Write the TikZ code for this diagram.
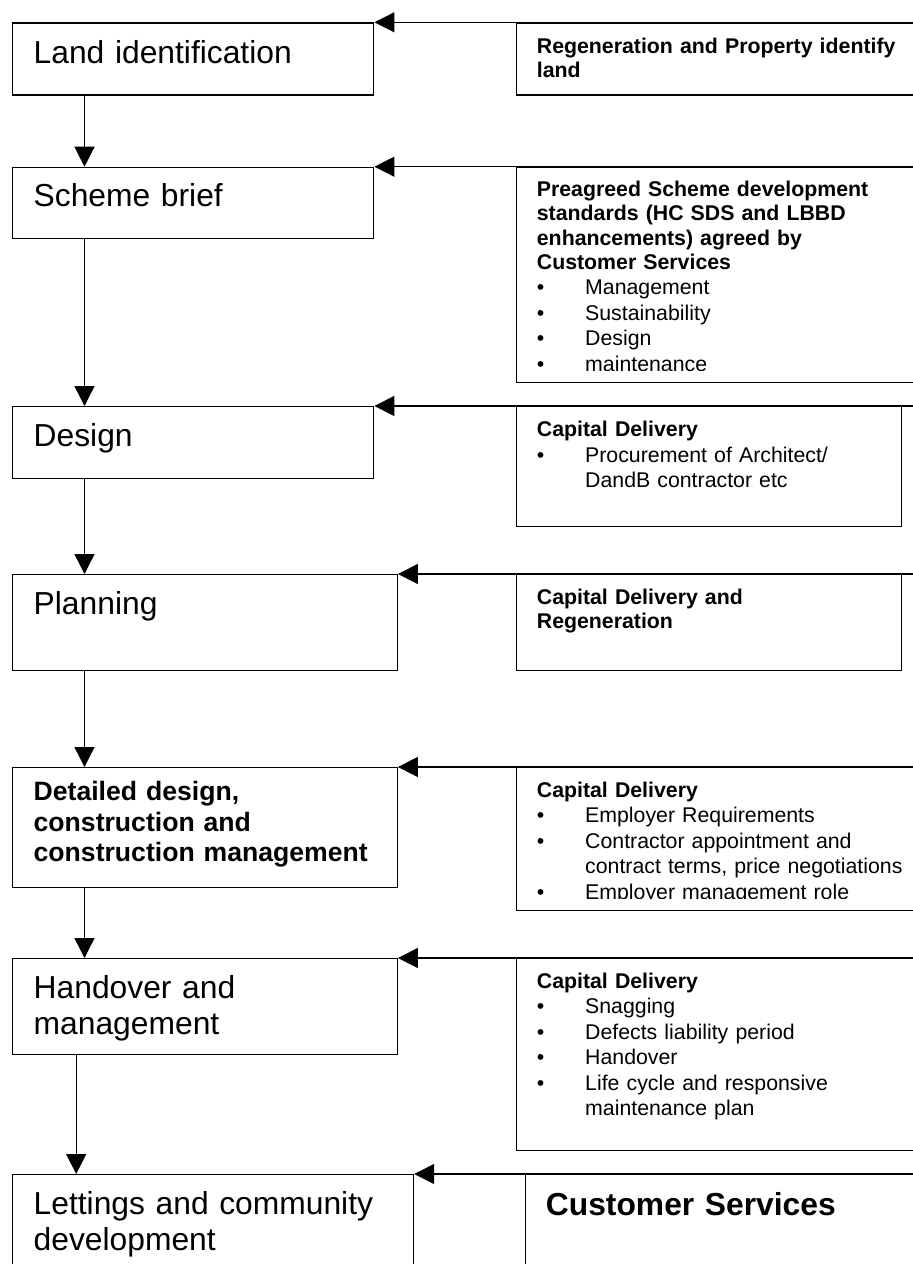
\documentclass[tikz,border=0pt]{standalone}
\usepackage{fontspec}
\setmainfont{Liberation Sans}
\usetikzlibrary{arrows.meta}

% bullet line and hanging indent for the notes
\newcommand\itm[1]{\makebox[48.3pt][l]{\textbullet}#1}
\newcommand\hang{\hspace*{48.3pt}}

\begin{document}
\begin{tikzpicture}[x=1pt, y=-1pt,
  stage/.style={draw, line width=1.4pt, anchor=north west, inner sep=0pt},
  title/.style={anchor=base west, inner sep=0pt, align=left, text width=380pt, font=\fontsize{31.8}{36}\selectfont},
  note/.style={anchor=base west, inner sep=0pt, align=left, text width=370pt, font=\fontsize{21.3}{25.5}\selectfont},
  flow/.style={line width=1.3pt, -{Triangle[length=20pt,width=20pt]}}]
\useasboundingbox (0,0) rectangle (913,1264);
\clip (0,0) rectangle (913,1264);

% stages on the left
\node[stage, minimum width=361pt, minimum height=72pt] (b1) at (12,22.3) {};
\node[stage, minimum width=361pt, minimum height=71.3pt] (b2) at (12,166.7) {};
\node[stage, minimum width=361pt, minimum height=72pt] (b3) at (12,406) {};
\node[stage, minimum width=384.5pt, minimum height=96pt] (b4) at (12,574) {};
\node[stage, minimum width=384.5pt, minimum height=120pt] (b5) at (12,767) {};
\node[stage, minimum width=384.5pt, minimum height=96pt] (b6) at (12,958) {};
\node[stage, minimum width=400.8pt, minimum height=120pt] (b7) at (12,1174) {};

\node[title] (t1) at (33.5,63.3) {Land identification};
\node[title] (t2) at (33.5,206.7) {Scheme brief};
\node[title] (t3) at (33.5,446.7) {Design};
\node[title] (t4) at (33.5,614) {Planning};
\node[title, font=\fontsize{26.6}{30.5}\bfseries] (t5) at (33.5,800.7) {Detailed design,\\construction and\\construction management};
\node[title] (t6) at (33.5,998) {Handover and\\management};
\node[title] (t7) at (33.5,1214) {Lettings and community\\development};

% who does it, on the right
\node[stage, minimum width=409pt, minimum height=72pt] (r1) at (516,22.3) {};
\node[stage, minimum width=409pt, minimum height=215.3pt] (r2) at (516,166.7) {};
\node[stage, minimum width=385pt, minimum height=120pt] (r3) at (516,406) {};
\node[stage, minimum width=385pt, minimum height=96pt] (r4) at (516,574) {};
\node[stage, minimum width=409pt, minimum height=143pt] (r5) at (516,767) {};
\node[stage, minimum width=409pt, minimum height=192pt] (r6) at (516,958) {};
\node[stage, minimum width=401pt, minimum height=120pt] (r7) at (524.5,1174) {};

\node[note] (n1) at (536.7,53.3) {\bfseries Regeneration and Property identify\\[-1.3pt]land};
\begin{scope}
\clip (516,166.7) rectangle (913,370.5);
\node[note] (n2) at (536.7,196.7) {{\bfseries Preagreed Scheme development\\[-1.3pt]standards (HC SDS and LBBD\\[-1.3pt]enhancements) agreed by\\[-1.3pt]Customer Services}\\
  \itm{Management}\\ \itm{Sustainability}\\ \itm{Design}\\ \itm{maintenance}};
\end{scope}
\node[note] (n3) at (536.7,436.7) {{\bfseries Capital Delivery}\\ \itm{Procurement of Architect/}\\ \hang DandB contractor etc};
\node[note] (n4) at (536.7,604) {\bfseries Capital Delivery and\\[-1.3pt]Regeneration};
\begin{scope}
\clip (516,767) rectangle (913,898.5);
\node[note] (n5) at (536.7,797) {{\bfseries Capital Delivery}\\ \itm{Employer Requirements}\\ \itm{Contractor appointment and}\\ \hang contract terms, price negotiations\\ \itm{Employer management role}};
\end{scope}
\node[note] (n6) at (536.7,988) {{\bfseries Capital Delivery}\\ \itm{Snagging}\\ \itm{Defects liability period}\\ \itm{Handover}\\ \itm{Life cycle and responsive}\\ \hang maintenance plan};
\node[title, font=\fontsize{31.8}{36}\bfseries] (n7) at (545.7,1215) {Customer Services};

% feeds from the right edge
\coordinate (e1) at (920,22.3);
\coordinate (e2) at (920,166.7);
\coordinate (e3) at (920,406);
\coordinate (e4) at (920,574);
\coordinate (e5) at (920,767);
\coordinate (e6) at (920,958);
\coordinate (e7) at (920,1174);
\foreach \i in {1,...,7}
  \draw[flow] (e\i) -- (b\i.north east);

% flow down the stages
\foreach \i/\j in {1/2,2/3,3/4,4/5,5/6}
  \draw[flow] ([xshift=72.5pt]b\i.south west) -- ([xshift=72.5pt]b\j.north west);
\draw[flow] ([xshift=64.2pt]b6.south west) -- ([xshift=64.2pt]b7.north west);
\end{tikzpicture}
\end{document}
